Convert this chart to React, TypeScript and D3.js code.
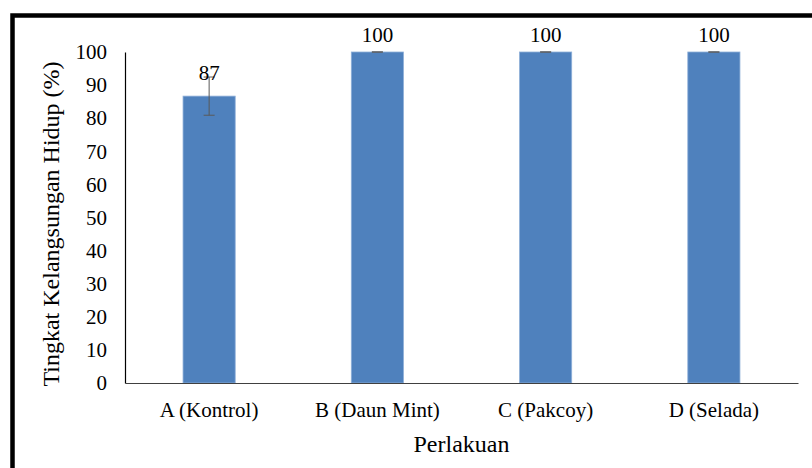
import React, { useEffect, useRef } from "react";
import * as d3 from "d3";

const categories = ["A (Kontrol)", "B (Daun Mint)", "C (Pakcoy)", "D (Selada)"];
const values = [86.67, 100, 100, 100];
const errors = [5.77, 0, 0, 0];
const labels = ["87", "100", "100", "100"];
const yTicks = [0, 10, 20, 30, 40, 50, 60, 70, 80, 90, 100];

const W = 812;
const H = 468;

export default function App() {
  const ref = useRef<SVGSVGElement>(null);

  useEffect(() => {
    const svg = d3.select(ref.current);
    svg.selectAll("*").remove();

    const margin = { top: 52, right: 14, bottom: 85, left: 125 };
    const font = "Liberation Serif, serif";

    // outer frame (cut off at right and bottom like the original)
    svg.append("rect")
      .attr("x", 12.5).attr("y", 15.5)
      .attr("width", W + 20).attr("height", H + 20)
      .attr("fill", "white")
      .attr("stroke", "#000").attr("stroke-width", 4.5);

    const x = d3.scaleBand().domain(categories)
      .range([margin.left, W - margin.right])
      .paddingInner(0.69).paddingOuter(0.345);
    const y = d3.scaleLinear().domain([0, 100]).range([H - margin.bottom, margin.top]);

    const g = svg.append("g");

    // bars
    g.selectAll(".bar")
      .data(values)
      .enter()
      .append("rect")
      .attr("class", "bar")
      .attr("x", (d, i) => x(categories[i])!)
      .attr("y", d => y(d))
      .attr("width", x.bandwidth())
      .attr("height", d => y(0) - y(d))
      .attr("fill", "#4F81BD")
      .attr("stroke", "#8EAFD8")
      .attr("stroke-width", 0.8);

    // error bars
    values.forEach((v, i) => {
      const cx = x(categories[i])! + x.bandwidth() / 2;
      const e = errors[i];
      const top = y(Math.min(100, v + e));
      const bot = y(v - e);
      const eg = g.append("g").attr("stroke", "#595959").attr("stroke-width", 1);
      eg.append("line").attr("x1", cx).attr("x2", cx).attr("y1", top).attr("y2", bot);
      eg.append("line").attr("x1", cx - 5.5).attr("x2", cx + 5.5).attr("y1", top).attr("y2", top);
      eg.append("line").attr("x1", cx - 5.5).attr("x2", cx + 5.5).attr("y1", bot).attr("y2", bot);
    });

    // value labels
    g.selectAll(".lbl")
      .data(values)
      .enter()
      .append("text")
      .attr("x", (d, i) => x(categories[i])! + x.bandwidth() / 2)
      .attr("y", d => Math.max(y(d) - 16, margin.top - 10))
      .attr("text-anchor", "middle")
      .style("font-family", font)
      .style("font-size", "21px")
      .attr("fill", "#000")
      .text((d, i) => labels[i]);

    // y axis
    const yAxis = g.append("g")
      .attr("transform", `translate(${margin.left},0)`)
      .call(d3.axisLeft(y).tickValues(yTicks).tickSize(0).tickPadding(18));
    yAxis.attr("font-family", null).attr("font-size", null);
    yAxis.select(".domain").attr("stroke", "#000").attr("stroke-width", 1.2);
    yAxis.selectAll("text").style("font-family", font).style("font-size", "21px").attr("fill", "#000");

    // x axis
    const xAxis = g.append("g")
      .attr("transform", `translate(0,${y(0)})`)
      .call(d3.axisBottom(x).tickSize(0).tickPadding(19));
    xAxis.attr("font-family", null).attr("font-size", null);
    xAxis.select(".domain").attr("stroke", "#404040").attr("stroke-width", 1.2);
    xAxis.selectAll("text").style("font-family", font).style("font-size", "21px").attr("fill", "#000");

    // axis titles
    svg.append("text")
      .attr("x", (margin.left + W - margin.right) / 2)
      .attr("y", 452)
      .attr("text-anchor", "middle")
      .style("font-family", font)
      .style("font-size", "24px")
      .text("Perlakuan");

    svg.append("text")
      .attr("transform", `translate(59,${224}) rotate(-90)`)
      .attr("text-anchor", "middle")
      .style("font-family", font)
      .style("font-size", "24px")
      .text("Tingkat Kelangsungan Hidup (%)");
  }, []);

  return (
    <svg ref={ref} width={W} height={H}
      style={{ position: "absolute", left: 0, top: 0, background: "#fff" }} />
  );
}
